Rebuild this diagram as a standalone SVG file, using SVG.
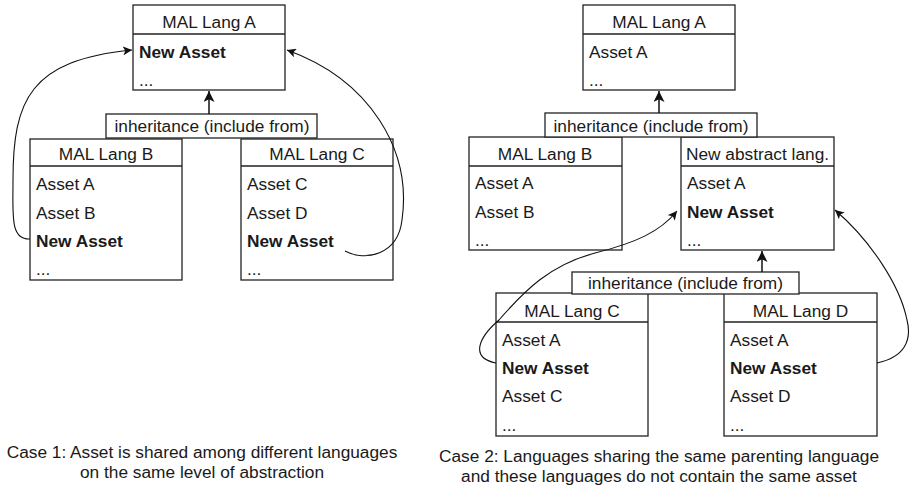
<svg xmlns="http://www.w3.org/2000/svg" width="910" height="488" viewBox="0 0 910 488">
<defs>
<style>
.box{fill:#fff;stroke:#222;stroke-width:1.3}
.div{stroke:#222;stroke-width:1.3}
text{font-family:"Liberation Sans",Arial,sans-serif;font-size:17.3px;fill:#1a1a1a}
.h{text-anchor:middle}
.b{font-weight:bold}
.cap{text-anchor:middle}
.con{fill:none;stroke:#111;stroke-width:1.1}
.inh{fill:none;stroke:#111;stroke-width:1.5}
</style>
<marker id="ah" viewBox="0 0 10 10" refX="10" refY="5" markerWidth="9" markerHeight="9" markerUnits="userSpaceOnUse" orient="auto">
<path d="M0,0 L10,5 L0,10 L2.5,5 Z" fill="#111"/>
</marker>
<marker id="ah2" viewBox="0 0 10 10" refX="10" refY="5" markerWidth="11" markerHeight="11" markerUnits="userSpaceOnUse" orient="auto">
<path d="M0,0 L10,5 L0,10 L2.5,5 Z" fill="#111"/>
</marker>
</defs>
<rect width="910" height="488" fill="#fff"/>

<!-- Case 1 -->
<g id="c1-langA">
<rect class="box" x="133" y="5" width="152" height="85"/>
<line class="div" x1="133" y1="34" x2="285" y2="34"/>
<text class="h" x="209" y="28">MAL Lang A</text>
<text class="b" x="139" y="58">New Asset</text>
<text x="139" y="86">...</text>
</g>
<g id="c1-langB">
<rect class="box" x="30" y="139" width="152" height="141"/>
<line class="div" x1="30" y1="166" x2="182" y2="166"/>
<text class="h" x="106" y="160">MAL Lang B</text>
<text x="36" y="190">Asset A</text>
<text x="36" y="218.5">Asset B</text>
<text class="b" x="36" y="247">New Asset</text>
<text x="36" y="275">...</text>
</g>
<g id="c1-langC">
<rect class="box" x="241" y="139" width="152" height="141"/>
<line class="div" x1="241" y1="166" x2="393" y2="166"/>
<text class="h" x="317" y="160">MAL Lang C</text>
<text x="247" y="190">Asset C</text>
<text x="247" y="218.5">Asset D</text>
<text class="b" x="247" y="247">New Asset</text>
<text x="247" y="275">...</text>
</g>
<g id="c1-inherit">
<rect class="box" x="106" y="114" width="211" height="24"/>
<text class="h" x="212" y="132">inheritance (include from)</text>
</g>
<g id="c1-caption">
<text class="cap" x="202" y="458">Case 1: Asset is shared among different languages</text>
<text class="cap" x="202" y="478">on the same level of abstraction</text>
</g>

<!-- Case 2 -->
<g id="c2-langA">
<rect class="box" x="583" y="5" width="152" height="85"/>
<line class="div" x1="583" y1="34" x2="735" y2="34"/>
<text class="h" x="659" y="28">MAL Lang A</text>
<text x="589" y="58">Asset A</text>
<text x="589" y="86">...</text>
</g>
<g id="c2-langB">
<rect class="box" x="469" y="137" width="153" height="113"/>
<line class="div" x1="469" y1="166" x2="622" y2="166"/>
<text class="h" x="545" y="160">MAL Lang B</text>
<text x="475" y="189">Asset A</text>
<text x="475" y="218">Asset B</text>
<text x="475" y="246">...</text>
</g>
<g id="c2-abstract">
<rect class="box" x="681" y="137" width="153" height="113"/>
<line class="div" x1="681" y1="166" x2="834" y2="166"/>
<text class="h" x="757.5" y="160">New abstract lang.</text>
<text x="687" y="189">Asset A</text>
<text class="b" x="687" y="218">New Asset</text>
<text x="687" y="246">...</text>
</g>
<g id="c2-inherit1">
<rect class="box" x="545" y="113" width="212" height="24"/>
<text class="h" x="651" y="132">inheritance (include from)</text>
</g>
<g id="c2-langC">
<rect class="box" x="496" y="293" width="152" height="143"/>
<line class="div" x1="496" y1="322" x2="648" y2="322"/>
<text class="h" x="572" y="317">MAL Lang C</text>
<text x="502" y="346">Asset A</text>
<text class="b" x="502" y="374">New Asset</text>
<text x="502" y="402">Asset C</text>
<text x="502" y="431">...</text>
</g>
<g id="c2-langD">
<rect class="box" x="724" y="293" width="153" height="143"/>
<line class="div" x1="724" y1="322" x2="877" y2="322"/>
<text class="h" x="800.5" y="317">MAL Lang D</text>
<text x="730" y="346">Asset A</text>
<text class="b" x="730" y="374">New Asset</text>
<text x="730" y="402">Asset D</text>
<text x="730" y="431">...</text>
</g>
<g id="c2-inherit2">
<rect class="box" x="572" y="272" width="227" height="22"/>
<text class="h" x="685.5" y="289">inheritance (include from)</text>
</g>
<g id="c2-caption">
<text class="cap" x="659" y="462">Case 2: Languages sharing the same parenting language</text>
<text class="cap" x="659" y="482">and these languages do not contain the same asset</text>
</g>

<g id="connectors">
<line class="inh" x1="209" y1="114" x2="209" y2="91" marker-end="url(#ah2)"/>
<line class="inh" x1="659" y1="113" x2="659" y2="91" marker-end="url(#ah2)"/>
<line class="inh" x1="762" y1="272" x2="762" y2="251" marker-end="url(#ah2)"/>
<path class="con" d="M30,239 C10,240 13,215 13,180 C13,100 30,60 132,50" marker-end="url(#ah)"/>
<path class="con" d="M345,251 C365,262 398,255 402,220 C412,150 370,80 287,50" marker-end="url(#ah)"/>
<path class="con" d="M496,363 C470,358 478,338 499,320 C525,290 550,265 595,253 C635,243 660,232 677,211" marker-end="url(#ah)"/>
<path class="con" d="M877,363 C905,357 912,340 907,320 C900,285 870,240 835,210" marker-end="url(#ah)"/>
</g>
</svg>
